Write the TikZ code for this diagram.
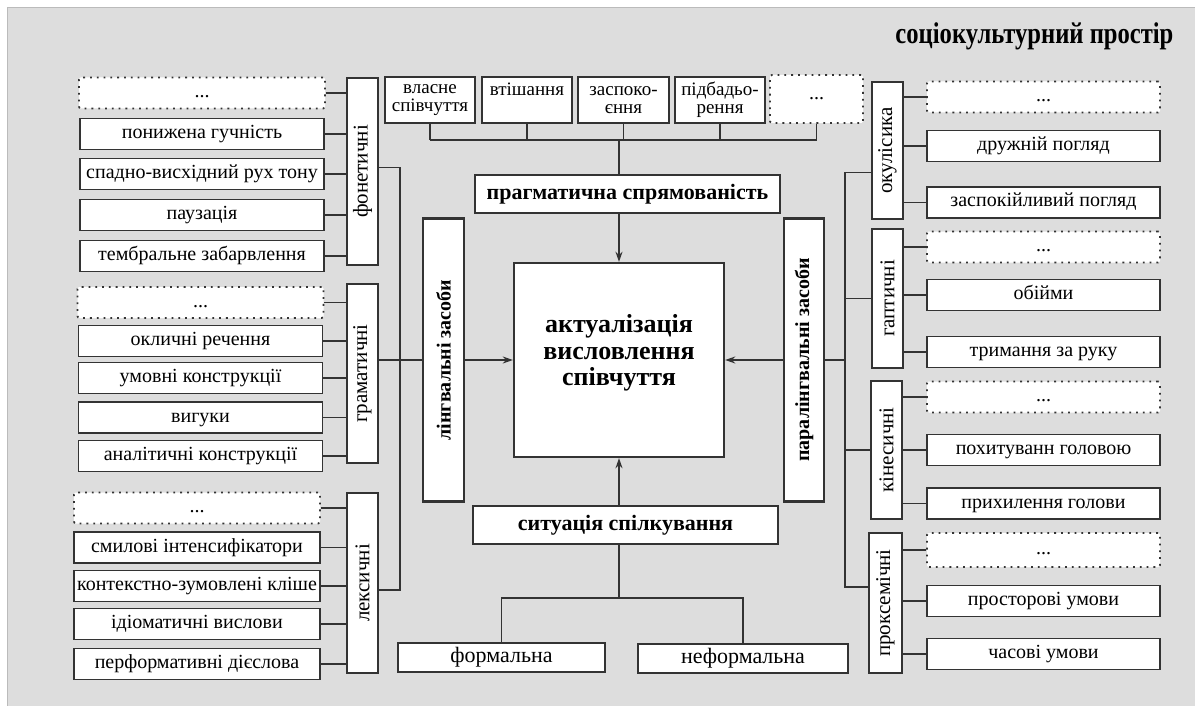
\documentclass[tikz,border=0pt]{standalone}
\usepackage{fontspec}
\setmainfont{Liberation Serif}
\usetikzlibrary{arrows.meta}
\definecolor{bg}{HTML}{DDDDDD}
\definecolor{edge}{HTML}{BBBBBB}
\begin{document}
\begin{tikzpicture}[x=1pt,y=-1pt,>={Stealth[length=10pt,width=7pt]},
    box/.style={draw=black!80,line width=1.8pt,fill=white,inner sep=0pt,minimum height=31pt,font=\fontsize{20}{19}\selectfont},
    dotbox/.style={box,dash pattern=on 1.8pt off 5pt,rounded corners=2pt},
    item/.style={box,minimum width=244pt,text height=13pt,text depth=4pt},
    ritem/.style={box,minimum width=233pt,text height=13pt,text depth=4pt},
    top/.style={box,minimum width=90pt,minimum height=46pt,align=center,font=\fontsize{19}{18}\selectfont},
    grp/.style={box,rotate=90,minimum height=31pt,font=\fontsize{21}{21}\selectfont},
    key/.style={box,line width=2.4pt,font=\fontsize{22}{22}\bfseries\selectfont},
    side/.style={key,rotate=90,minimum width=283pt,font=\fontsize{20}{20}\bfseries\selectfont},
    sub/.style={box,minimum height=29pt,font=\fontsize{22}{22}\selectfont},
    link/.style={draw=black!80,line width=1.3pt}]
    \useasboundingbox (0,0) rectangle (1195,706);
    \fill[bg] (7,8) rectangle (1195,706);
    \draw[edge,line width=1pt] (7,706)--(7,8)--(1195,8);
    \node[anchor=east,font=\fontsize{30}{30}\bfseries\selectfont] (title) at (1177,36) {\scalebox{0.82}[1]{соціокультурний простір}};
    % centre
    \node[key,minimum width=210pt,minimum height=194pt,align=center,text depth=20pt,font=\fontsize{26}{26.5}\bfseries\selectfont] (act) at (619,360) {актуалізація\\висловлення\\співчуття};
    \node[key,minimum width=305pt,minimum height=38pt] (prag) at (627.5,194) {прагматична спрямованість};
    \node[key,minimum width=305pt,minimum height=38pt] (sit) at (625.5,525) {ситуація спілкування};
    \node[side,minimum height=41pt] (ling) at (443.5,360) {лінгвальні засоби};
    \node[side,minimum height=40pt] (para) at (804,360) {паралінгвальні засоби};
    % top row
    \node[top] (t1) at (430,100) {власне\\співчуття};
    \node[top] (t2) at (527,100) {втішання\\\phantom{р}};
    \node[top,minimum width=91pt] (t3) at (623.5,100) {заспоко-\\єння};
    \node[top] (t4) at (720,100) {підбадьо-\\рення};
    \node[top,dotbox,minimum width=93pt,minimum height=48pt] (t5) at (816.5,99) {...};
    % bottom row
    \node[sub,minimum width=207pt] (form) at (501.5,657.5) {формальна};
    \node[sub,minimum width=210pt] (nform) at (743,658.5) {неформальна};
    % left: phonetic
    \node[item,dotbox,minimum width=246pt] (f0) at (202,93) {...};
    \node[item] (f1) at (202,134) {понижена гучність};
    \node[item] (f2) at (202,174) {спадно-висхідний рух тону};
    \node[item] (f3) at (202,215) {паузація};
    \node[item] (f4) at (202,256) {тембральне забарвлення};
    \node[grp,minimum width=187pt] (fon) at (362.5,171.5) {фонетичні};
    % left: grammar
    \node[item,dotbox,minimum width=246pt] (g0) at (200.5,302.5) {...};
    \node[item] (g1) at (200.5,341) {окличні речення};
    \node[item] (g2) at (200.5,378) {умовні конструкції};
    \node[item] (g3) at (200.5,417.5) {вигуки};
    \node[item] (g4) at (200.5,456) {аналітичні конструкції};
    \node[grp,minimum width=179pt] (gram) at (362.5,373.5) {граматичні};
    % left: lexis
    \node[item,dotbox,minimum width=246pt] (l0) at (197,508) {...};
    \node[item,minimum width=246pt] (l1) at (197,547.5) {смилові інтенсифікатори};
    \node[item,minimum width=246pt] (l2) at (197,586) {контекстно-зумовлені кліше};
    \node[item,minimum width=246pt] (l3) at (197,624) {ідіоматичні вислови};
    \node[item,minimum width=246pt] (l4) at (197,664) {перформативні дієслова};
    \node[grp,minimum width=180pt] (leks) at (362.5,583) {лексичні};
    % right: oculesics
    \node[ritem,dotbox] (o0) at (1043.5,97) {...};
    \node[ritem] (o1) at (1043.5,146) {дружній погляд};
    \node[ritem] (o2) at (1043.5,202.5) {заспокійливий погляд};
    \node[grp,minimum width=137pt] (oku) at (887.5,150.5) {окулісика};
    % right: haptics
    \node[ritem,dotbox] (h0) at (1043.5,247) {...};
    \node[ritem] (h1) at (1043.5,295) {обійми};
    \node[ritem] (h2) at (1043.5,352) {тримання за руку};
    \node[grp,minimum width=139pt] (hap) at (887.5,298.5) {гаптичні};
    % right: kinesics
    \node[ritem,dotbox] (k0) at (1043.5,397) {...};
    \node[ritem] (k1) at (1043.5,450) {похитуванн головою};
    \node[ritem] (k2) at (1043.5,503.5) {прихилення голови};
    \node[grp,minimum width=138pt] (kin) at (886.5,450) {кінесичні};
    % right: proxemics
    \node[ritem,dotbox,minimum height=34pt] (p0) at (1043.5,550) {...};
    \node[ritem] (p1) at (1043.5,601) {просторові умови};
    \node[ritem] (p2) at (1043.5,654) {часові умови};
    \node[grp,minimum width=140pt,minimum height=33pt] (prox) at (885.5,603) {проксемічні};
    % links
    \foreach \g/\n in {f/fon,g/gram,l/leks}{
      \foreach \i in {0,...,4}
        \draw[link] (\g\i.east)--(\g\i.east -| \n.north);
    }
    \foreach \g/\n in {o/oku,h/hap,k/kin,p/prox}{
      \foreach \i in {0,1,2}
        \draw[link] (\g\i.west)--(\g\i.west -| \n.south);
    }
    \coordinate (lb) at (400,360);
    \draw[link] ([yshift=4pt]fon.south) -| (lb) |- ([yshift=-7pt]leks.south);
    \draw[link] (gram.south |- ling.north)--(ling.north);
    \draw[link,->] (ling.south)--(act.west);
    \coordinate (rb) at (845,360);
    \draw[link] (para.south)--(rb);
    \draw[link] ([yshift=-22pt]oku.north) -| (rb) |- ([yshift=16pt]prox.north);
    \draw[link] (hap.north)--(hap.north -| rb);
    \draw[link] (kin.north)--(kin.north -| rb);
    \draw[link,->] (para.north)--(act.east);
    \coordinate (tb) at (619,140);
    \foreach \i in {1,...,5}
      \draw[link] (t\i.south)--(t\i.south |- tb);
    \draw[link] (t1.south |- tb)--(t5.south |- tb);
    \draw[link] (tb)--(prag.north -| tb);
    \draw[link,->] (prag.south -| act.north)--(act.north);
    \draw[link,->] (sit.north -| act.south)--(act.south);
    \coordinate (bb) at (619,598);
    \draw[link] (sit.south -| bb)--(bb);
    \draw[link] (form.north) |- (bb) -| (nform.north);
\end{tikzpicture}
\end{document}
